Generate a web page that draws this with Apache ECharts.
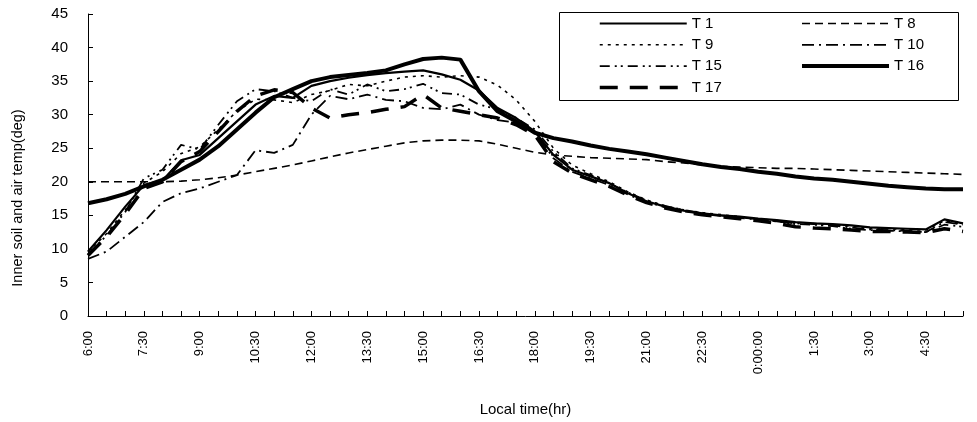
<!DOCTYPE html>
<html>
<head>
<meta charset="utf-8">
<script src="https://cdn.jsdelivr.net/npm/echarts/dist/echarts.min.js"></script>
<style>html,body{margin:0;padding:0;background:#fff}#c{width:977px;height:422px}</style>
</head>
<body>
<div id="c"></div>
<script>
const categories = ['6:00','6:30','7:00','7:30','8:00','8:30','9:00','9:30','10:00','10:30','11:00','11:30','12:00','12:30','13:00','13:30','14:00','14:30','15:00','15:30','16:00','16:30','17:00','17:30','18:00','18:30','19:00','19:30','20:00','20:30','21:00','21:30','22:00','22:30','23:00','23:30','0:00:00','0:30','1:00','1:30','2:00','2:30','3:00','3:30','4:00','4:30','5:00','5:30'];

const T1 = [9.6,12.8,16.3,19.5,20.2,23.2,24.0,26.5,29.0,31.5,32.8,32.5,34.3,35.0,35.5,35.9,36.2,36.4,36.6,36.0,35.2,33.6,31.0,29.5,27.5,24.0,21.8,20.8,19.8,18.3,17.1,16.3,15.7,15.3,15.0,14.8,14.5,14.3,14.0,13.8,13.7,13.5,13.2,13.1,13.0,12.9,14.4,13.8];
const T8 = [20,20,20,20,20,20.1,20.3,20.6,21,21.5,22,22.5,23.1,23.7,24.3,24.8,25.3,25.8,26.1,26.2,26.2,26.1,25.6,25.0,24.4,24.0,23.8,23.6,23.5,23.4,23.3,23.0,22.8,22.5,22.3,22.2,22.1,22.0,22.0,21.9,21.8,21.7,21.6,21.5,21.4,21.3,21.2,21.1];
const T9 = [9.5,12.3,15.8,19.8,21.5,24.2,25.2,27.8,30.5,32.3,32.2,31.8,33.0,33.6,34.5,34.3,35.0,35.6,35.8,35.6,35.8,35.6,34.4,32.2,29.0,25.0,22.5,21.2,20.0,18.5,17.3,16.4,15.8,15.4,15.1,14.8,14.5,14.2,13.9,13.8,13.6,13.4,13.1,13.0,12.9,12.8,14.2,13.7];
const T10 = [8.5,9.6,11.8,14.0,17.0,18.3,19.0,20.0,21.0,24.7,24.3,25.5,30.0,32.8,32.3,33.0,32.2,32.0,31.0,30.8,31.5,30.0,29.2,28.8,27.5,23.5,21.5,20.5,19.5,18.1,17.0,16.2,15.6,15.2,14.9,14.6,14.4,14.1,13.8,13.7,13.5,13.2,12.9,12.8,12.7,12.5,14.0,13.6];
const T15 = [9.2,12.0,15.5,20.5,21.8,25.5,24.8,28.5,32.0,33.8,33.5,32.5,32.0,33.8,33.0,34.5,33.5,33.8,34.6,33.2,33.0,31.5,30.8,29.5,27.8,24.5,22.0,21.0,19.8,18.4,17.2,16.4,15.8,15.3,15.0,14.7,14.4,14.1,13.7,13.6,13.4,13.0,12.8,12.7,12.6,12.5,13.6,13.3];
const T16 = [16.8,17.4,18.2,19.3,20.3,21.8,23.3,25.3,27.8,30.3,32.6,33.8,35.0,35.6,35.9,36.2,36.6,37.5,38.3,38.5,38.2,33.5,30.5,29.0,27.3,26.5,26.0,25.4,24.9,24.5,24.1,23.6,23.1,22.6,22.2,21.9,21.5,21.2,20.8,20.5,20.3,20.0,19.7,19.4,19.2,19.0,18.9,18.9];
const T17 = [9.0,11.8,15.2,19.0,20.0,23.0,24.5,27.5,30.5,32.8,33.7,33.3,31.0,29.5,30.0,30.3,30.8,31.2,33.0,31.0,30.5,30.0,29.5,28.5,27.0,23.0,21.3,20.3,19.3,18.0,16.9,16.1,15.5,15.1,14.8,14.5,14.2,13.8,13.3,13.1,13.0,12.8,12.6,12.6,12.5,12.4,13.0,12.6];

const yTicks = {min: 0, max: 45, interval: 5};
const FONT = 'Liberation Sans, Arial, sans-serif';

const styles = {
  'T 1':  {width: 2.2, type: 'solid', z: 3},
  'T 8':  {width: 1.6, type: [8, 5], z: 2},
  'T 9':  {width: 1.6, type: [3, 5], z: 2},
  'T 10': {width: 1.8, type: [12, 5, 2, 5], z: 2},
  'T 15': {width: 1.8, type: [10, 5, 2, 4, 2, 5], z: 2},
  'T 16': {width: 4, type: 'solid', z: 4},
  'T 17': {width: 3.5, type: [18, 12], z: 3}
};

function mk(name, data) {
  const s = styles[name];
  return {
    name: name, type: 'line', data: data, symbol: 'none', showSymbol: false,
    z: s.z,
    lineStyle: {color: '#000', width: s.width, type: s.type},
    itemStyle: {color: '#000'},
    emphasis: {disabled: true}
  };
}
function legItem(name) {
  const s = styles[name];
  return {name: name, itemStyle: {opacity: 0}, lineStyle: {color: '#000', width: s.width, type: s.type}};
}

const legendBase = {
  orient: 'vertical', top: 11, z: 10, itemWidth: 87, itemHeight: 14, itemGap: 6.3,
  itemStyle: {opacity: 0},
  textStyle: {fontSize: 15, color: '#000', fontFamily: FONT}
};

const chart = echarts.init(document.getElementById('c'), null, {renderer: 'canvas'});
chart.setOption({
  animation: false,
  backgroundColor: '#fff',
  grid: {left: 88, right: 14, top: 14, bottom: 97, containLabel: false},
  graphic: [{
    type: 'rect', z: 5,
    shape: {x: 559.5, y: 12.5, width: 399, height: 88},
    style: {fill: '#fff', stroke: '#000', lineWidth: 1}
  }],
  legend: [
    Object.assign({}, legendBase, {left: 593, data: ['T 1', 'T 9', 'T 15', 'T 17'].map(legItem)}),
    Object.assign({}, legendBase, {left: 795, data: ['T 8', 'T 10', 'T 16'].map(legItem)})
  ],
  xAxis: {
    type: 'category', data: categories, boundaryGap: false,
    name: 'Local time(hr)', nameLocation: 'middle', nameGap: 86,
    nameTextStyle: {fontSize: 15, color: '#000', fontFamily: FONT},
    axisLine: {lineStyle: {color: '#000', width: 1}},
    axisTick: {inside: true, length: 5, interval: 0, lineStyle: {color: '#000'}},
    axisLabel: {rotate: 90, interval: 2, fontSize: 13, color: '#000', margin: 15, fontFamily: FONT},
    splitLine: {show: false}
  },
  yAxis: {
    type: 'value', min: yTicks.min, max: yTicks.max, interval: yTicks.interval,
    name: 'Inner soil and air temp(deg)', nameLocation: 'middle', nameGap: 63,
    nameTextStyle: {fontSize: 14.5, color: '#000', fontFamily: FONT, padding: [0, 66, 0, 0]},
    axisLine: {show: true, lineStyle: {color: '#000', width: 1}},
    axisTick: {show: true, inside: true, length: 5, lineStyle: {color: '#000'}},
    axisLabel: {fontSize: 15, color: '#000', margin: 20, fontFamily: FONT},
    splitLine: {show: false}
  },
  series: [
    mk('T 1', T1), mk('T 8', T8), mk('T 9', T9), mk('T 10', T10),
    mk('T 15', T15), mk('T 16', T16), mk('T 17', T17)
  ]
});
</script>
</body>
</html>
